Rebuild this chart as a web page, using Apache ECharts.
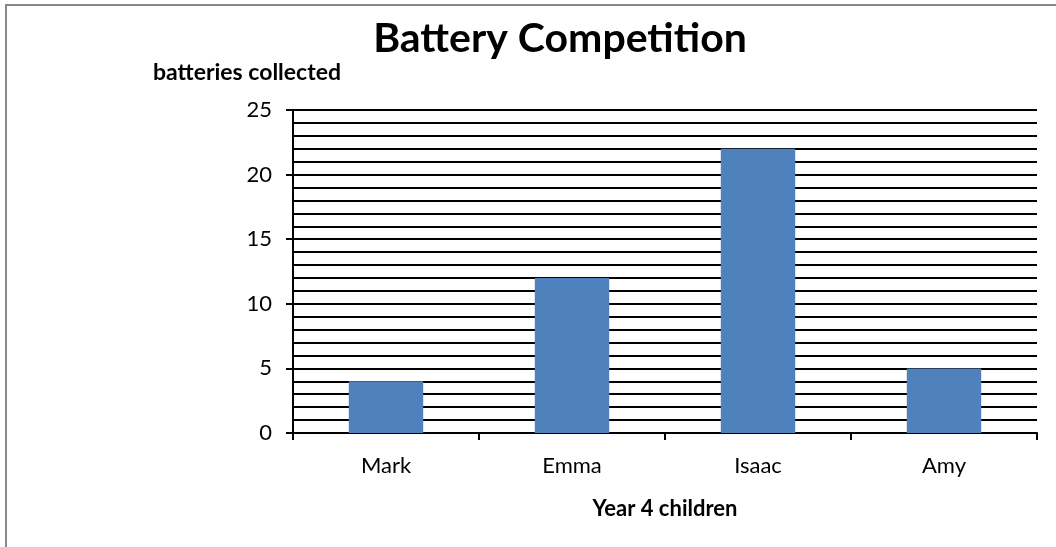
<!DOCTYPE html>
<html><head><meta charset="utf-8">
<script src="https://cdn.jsdelivr.net/npm/echarts@6/dist/echarts.min.js"></script>
<style>html,body{margin:0;padding:0;background:#fff}#c{width:1056px;height:547px}</style>
</head><body><div id="c"></div>
<script>
const categories = ['Mark', 'Emma', 'Isaac', 'Amy'];
const batteries = [4, 12, 22, 5];
const yTicks = [0, 5, 10, 15, 20, 25];
const titleText = 'Battery Competition';
const yName = 'batteries collected';
const xName = 'Year 4 children';

const F = 'Lato, "Liberation Sans", sans-serif';
const chart = echarts.init(document.getElementById('c'));
chart.setOption({
  animation: false,
  backgroundColor: '#fff',
  graphic: [{type: 'rect', shape: {x: 6, y: 5, width: 1200, height: 700}, style: {fill: 'none', stroke: '#888', lineWidth: 2}, z: 100}],
  title: [
    {text: titleText, left: 555, top: 13, textAlign: 'center', textStyle: {fontFamily: F, fontSize: 41, fontWeight: 'bold', color: '#000'}},
    {text: yName, left: 242, top: 56, textAlign: 'center', textStyle: {fontFamily: F, fontSize: 23, fontWeight: 'bold', color: '#000'}}
  ],
  grid: {left: 293, right: 19, top: 110, bottom: 114, containLabel: false},
  xAxis: {
    type: 'category', data: categories,
    name: xName, nameLocation: 'middle', nameGap: 65,
    nameTextStyle: {fontFamily: F, fontSize: 22, fontWeight: 'bold', color: '#000'},
    axisLine: {lineStyle: {color: '#000', width: 2}},
    axisTick: {show: true, length: 7, lineStyle: {color: '#000', width: 2}},
    axisLabel: {fontFamily: F, fontSize: 22, color: '#000', margin: 22},
    splitLine: {show: false}
  },
  yAxis: {
    type: 'value', min: yTicks[0], max: yTicks[yTicks.length - 1], interval: 5,
    axisLine: {show: true, lineStyle: {color: '#000', width: 2}},
    axisTick: {show: true, length: 7, lineStyle: {color: '#000', width: 2}},
    axisLabel: {fontFamily: F, fontSize: 22, color: '#000', margin: 21},
    splitLine: {show: true, lineStyle: {color: '#000', width: 2}},
    minorTick: {show: false, splitNumber: 5},
    minorSplitLine: {show: true, lineStyle: {color: '#000', width: 2}}
  },
  series: [{
    type: 'bar', data: batteries, barWidth: '40%',
    itemStyle: {color: '#4F81BD'}, z: 3
  }]
});
</script></body></html>
